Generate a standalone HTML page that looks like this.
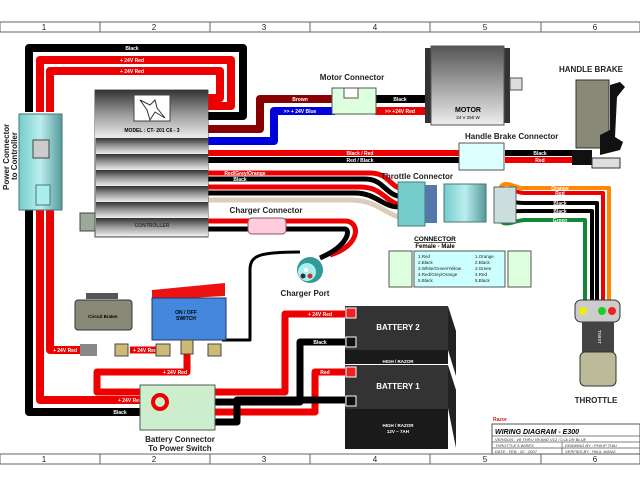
<!DOCTYPE html>
<html><head><meta charset="utf-8"><style>
html,body{margin:0;padding:0;background:#fff;width:640px;height:480px;overflow:hidden}
svg{display:block;font-family:"Liberation Sans",sans-serif}
.wl{font-size:5px;fill:#fff;font-weight:bold}
.lb{font-size:8px;font-weight:bold;fill:#222}
</style></head><body>
<svg width="640" height="480" viewBox="0 0 640 480" xmlns="http://www.w3.org/2000/svg">
<defs>
<linearGradient id="cg" x1="0" y1="0" x2="0" y2="1"><stop offset="0" stop-color="#333"/><stop offset="0.5" stop-color="#999"/><stop offset="1" stop-color="#eee"/></linearGradient>
<linearGradient id="mg" x1="0" y1="0" x2="0" y2="1"><stop offset="0" stop-color="#555"/><stop offset="1" stop-color="#eee"/></linearGradient>
<linearGradient id="tg" x1="0" y1="0" x2="1" y2="0"><stop offset="0" stop-color="#7cc"/><stop offset="0.5" stop-color="#bee"/><stop offset="1" stop-color="#599"/></linearGradient>
</defs>
<!-- rulers -->
<g stroke="#666" stroke-width="1" fill="#fff">
<rect x="0" y="22" width="640" height="10"/><rect x="0" y="454" width="640" height="10"/>
<path d="M100 22v10M210 22v10M310 22v10M430 22v10M541 22v10M100 454v10M210 454v10M310 454v10M430 454v10M541 454v10"/>
</g>
<g font-size="8" text-anchor="middle" fill="#222">
<text x="44" y="30">1</text><text x="154" y="30">2</text><text x="264" y="30">3</text><text x="375" y="30">4</text><text x="485" y="30">5</text><text x="595" y="30">6</text>
<text x="44" y="462">1</text><text x="154" y="462">2</text><text x="264" y="462">3</text><text x="375" y="462">4</text><text x="485" y="462">5</text><text x="595" y="462">6</text>
</g>
<!-- top loops -->
<g fill="none" stroke-linejoin="round">
<path d="M29 112V48H243V116H205" stroke="#000" stroke-width="8"/>
<path d="M40 112V60H231V106H205" stroke="#e00" stroke-width="8"/>
<path d="M50 112V71H220V98H205" stroke="#e00" stroke-width="8"/>
<!-- left down -->
<path d="M29 205V412H145" stroke="#000" stroke-width="8"/>
<path d="M40 205V400H145" stroke="#e00" stroke-width="8"/>
<path d="M50 205V350H80" stroke="#e00" stroke-width="8"/>
<!-- brown / blue -->
<path d="M205 129H260V99H335" stroke="#800" stroke-width="8"/>
<path d="M205 141H274V111H335" stroke="#00d" stroke-width="8"/>
<path d="M375 99H428" stroke="#000" stroke-width="8"/>
<path d="M375 111H428" stroke="#e00" stroke-width="8"/>
<!-- brake -->
<path d="M205 153H460" stroke="#e00" stroke-width="6"/>
<path d="M205 160H460" stroke="#000" stroke-width="6"/>
<path d="M505 153H580" stroke="#000" stroke-width="6"/>
<path d="M505 160H580" stroke="#e00" stroke-width="6"/>
<!-- throttle to female -->
<path d="M205 173H370C390 173 390 189 405 189" stroke="#e00" stroke-width="5"/>
<path d="M205 179H365C385 179 385 197 405 197" stroke="#000" stroke-width="5"/>
<path d="M205 187H360C385 187 385 205 405 205" stroke="#e00" stroke-width="5"/>
<path d="M205 193H355C380 193 385 213 408 205" stroke="#000" stroke-width="5"/>
<path d="M205 200H350C385 200 390 225 415 215" stroke="#dcb" stroke-width="5"/>
<!-- throttle male to throttle -->
<path d="M500 192C500 180 510 184 520 188H609V300" stroke="#f80" stroke-width="4"/>
<path d="M508 192C510 186 515 193 525 193H603V300" stroke="#e00" stroke-width="4"/>
<path d="M500 205C505 200 515 203 525 203H597V300" stroke="#000" stroke-width="4"/>
<path d="M500 210C505 212 515 211 525 211H592V300" stroke="#000" stroke-width="4"/>
<path d="M500 220C505 228 515 220 525 220H585V300" stroke="#183" stroke-width="4"/>
<!-- charger -->
<path d="M205 221H250M285 221H345C360 221 362 245 330 255" stroke="#e00" stroke-width="5"/>
<path d="M205 229H250M285 229H345C350 229 350 245 320 258" stroke="#000" stroke-width="5"/>
<path d="M300 252C260 252 250 255 250 270V340H222" stroke="#000" stroke-width="3"/>
<!-- switch/breaker wires -->
<path d="M130 350H160" stroke="#e00" stroke-width="7"/>
<path d="M187 340V372H97V392H145" stroke="#e00" stroke-width="7"/>
<!-- batteries wires -->
<path d="M210 392H285V314H345" stroke="#e00" stroke-width="7"/>
<path d="M210 402H300V342H345" stroke="#000" stroke-width="7"/>
<path d="M210 412H315V372H345" stroke="#e00" stroke-width="7"/>
<path d="M210 422H237V400H345" stroke="#000" stroke-width="7"/>
</g>
<!-- wire labels -->
<g class="wl" text-anchor="middle">
<text x="132" y="50">Black</text><text x="132" y="62">+ 24V Red</text><text x="132" y="73">+ 24V Red</text>
<text x="300" y="101">Brown</text><text x="300" y="113">&gt;&gt; + 24V Blue</text>
<text x="400" y="101">Black</text><text x="400" y="113">&gt;&gt; +24V Red</text>
<text x="360" y="155">Black / Red</text><text x="360" y="162">Red / Black</text>
<text x="540" y="155">Black</text><text x="540" y="162">Red</text>
<text x="245" y="175">Red/Grey/Orange</text><text x="240" y="181">Black</text>
<text x="120" y="414">Black</text><text x="130" y="402">+ 24V Red</text><text x="65" y="352">+ 24V Red</text>
<text x="145" y="352">+ 24V Red</text><text x="175" y="374">+ 24V Red</text>
<text x="250" y="384">+ 24V Red</text><text x="320" y="316">+ 24V Red</text><text x="320" y="344">Black</text>
<text x="325" y="374">Red</text><text x="250" y="424">Black</text>
<text x="560" y="190">Orange</text><text x="560" y="195">Red</text><text x="560" y="205">Black</text><text x="560" y="213">Black</text><text x="560" y="222">Green</text>
</g>
<!-- power connector -->
<rect x="19" y="114" width="43" height="96" fill="url(#tg)" stroke="#477"/>
<rect x="33" y="140" width="16" height="18" fill="#ccc" stroke="#444"/>
<rect x="36" y="185" width="14" height="20" fill="#aee" stroke="#477"/>
<text class="lb" font-size="7" transform="translate(9,190) rotate(-90)">Power Connector</text>
<text class="lb" font-size="7" transform="translate(17,180) rotate(-90)">to Controller</text>
<!-- controller -->
<rect x="80" y="213" width="15" height="18" fill="#9a9" stroke="#444"/>
<rect x="95" y="90" width="113" height="147" fill="#ccc" stroke="#555"/>
<rect x="95" y="90" width="113" height="48" fill="url(#cg)"/>
<g fill="url(#cg)"><rect x="96" y="138" width="112" height="16"/><rect x="96" y="154" width="112" height="16"/><rect x="96" y="170" width="112" height="16"/><rect x="96" y="186" width="112" height="16"/><rect x="96" y="202" width="112" height="16"/><rect x="96" y="218" width="112" height="18"/></g>
<rect x="134" y="95" width="36" height="26" fill="#fff" stroke="#444"/>
<path d="M140 100l10 5l5-5l2 8l8 10l-10-6l-5 8l-3-10z" fill="none" stroke="#333" stroke-width="1"/>
<text x="152" y="132" font-size="5" font-weight="bold" text-anchor="middle">MODEL : CT- 201 C6 - 3</text>
<text x="152" y="227" font-size="5" font-weight="bold" text-anchor="middle" fill="#333">CONTROLLER</text>
<!-- motor connector -->
<text class="lb" x="352" y="80" text-anchor="middle" font-size="7">Motor Connector</text>
<rect x="332" y="88" width="44" height="26" fill="#dfd" stroke="#555"/>
<rect x="344" y="88" width="14" height="10" fill="#fff" stroke="#555"/>
<!-- motor -->
<rect x="425" y="48" width="6" height="75" fill="#333"/><rect x="504" y="48" width="6" height="75" fill="#333"/>
<rect x="431" y="46" width="73" height="79" fill="url(#mg)" stroke="#555"/>
<rect x="510" y="78" width="12" height="12" fill="#ddd" stroke="#555"/>
<text x="468" y="112" font-size="7" font-weight="bold" text-anchor="middle">MOTOR</text>
<text x="468" y="119" font-size="4.5" text-anchor="middle">24 V 250 W</text>
<!-- handle brake -->
<text class="lb" x="591" y="72" text-anchor="middle">HANDLE BRAKE</text>
<rect x="576" y="80" width="33" height="68" fill="#887" stroke="#333"/>
<path d="M610 85l10-3l5 5l-8 10l-2 40l8 5l-3 8l-20 5v-20l10-5z" fill="#111"/>
<rect x="572" y="150" width="20" height="15" fill="#111"/>
<rect x="592" y="158" width="28" height="10" fill="#ddd" stroke="#333"/>
<text class="lb" x="465" y="139" font-size="7">Handle Brake Connector</text>
<rect x="459" y="143" width="45" height="27" fill="#dff" stroke="#555"/>
<!-- throttle connector -->
<text class="lb" x="381" y="179" font-size="7.5">Throttle Connector</text>
<rect x="398" y="182" width="27" height="44" fill="#7cc" stroke="#477"/>
<rect x="425" y="185" width="12" height="38" fill="#57a"/>
<rect x="444" y="184" width="42" height="38" fill="url(#tg)" stroke="#477"/>
<rect x="494" y="187" width="22" height="36" fill="#cdd" stroke="#566"/>
<text x="435" y="241" font-size="6.5" font-weight="bold" text-decoration="underline" text-anchor="middle">CONNECTOR</text>
<text x="435" y="248" font-size="6" font-weight="bold" text-anchor="middle">Female  -  Male</text>
<rect x="389" y="251" width="23" height="36" fill="#dfd" stroke="#555"/>
<rect x="414" y="251" width="91" height="36" fill="#cff" stroke="#555"/>
<rect x="508" y="251" width="23" height="36" fill="#dfd" stroke="#555"/>
<g font-size="4.5" fill="#222"><text x="418" y="258">1.Red</text><text x="418" y="264">2.Black</text><text x="418" y="270">3.White/Green/Yellow</text><text x="418" y="276">4.Red/Grey/Orange</text><text x="418" y="282">5.Black</text>
<text x="475" y="258">1.Orange</text><text x="475" y="264">2.Black</text><text x="475" y="270">3.Green</text><text x="475" y="276">4.Red</text><text x="475" y="282">5.Black</text></g>
<!-- throttle -->
<rect x="575" y="300" width="45" height="22" rx="6" fill="#ccc" stroke="#333"/>
<circle cx="583" cy="311" r="4" fill="#ee0"/><circle cx="602" cy="311" r="4" fill="#2c2"/><circle cx="612" cy="311" r="4" fill="#e22"/>
<rect x="582" y="322" width="32" height="30" fill="#444"/>
<text x="598" y="330" font-size="4.5" fill="#fff" transform="rotate(90 598 330)">TWIST</text>
<rect x="580" y="352" width="36" height="34" rx="5" fill="#bb9" stroke="#333"/>
<text class="lb" x="596" y="403" text-anchor="middle">THROTTLE</text>
<!-- charger -->
<text class="lb" x="266" y="213" text-anchor="middle" font-size="7">Charger Connector</text>
<rect x="248" y="218" width="38" height="16" rx="4" fill="#fcd" stroke="#855"/>
<circle cx="310" cy="270" r="13" fill="#399"/><circle cx="307" cy="272" r="9" fill="#aee"/>
<circle cx="303" cy="276" r="2.5" fill="#333"/><circle cx="310" cy="276" r="2.5" fill="#c33"/><circle cx="306" cy="270" r="2" fill="#fff"/>
<text class="lb" x="305" y="296" text-anchor="middle" font-size="7">Charger Port</text>
<!-- circuit breaker -->
<rect x="86" y="293" width="32" height="6" fill="#555"/>
<rect x="75" y="300" width="57" height="30" rx="3" fill="#887" stroke="#333"/>
<text x="103" y="318" font-size="4.5" font-weight="bold" text-anchor="middle">Circuit Braker</text>
<rect x="80" y="344" width="17" height="12" fill="#888"/><rect x="115" y="344" width="13" height="12" fill="#cb7" stroke="#444"/>
<!-- switch -->
<path d="M152 290L225 283V296L152 300z" fill="#e11"/>
<rect x="152" y="298" width="74" height="42" fill="#48d" stroke="#236"/>
<text x="186" y="314" font-size="5" font-weight="bold" text-anchor="middle">ON / OFF</text><text x="186" y="320" font-size="5" font-weight="bold" text-anchor="middle">SWITCH</text>
<rect x="156" y="344" width="14" height="12" fill="#cb7" stroke="#444"/><rect x="181" y="340" width="12" height="14" fill="#cb7" stroke="#444"/><rect x="208" y="344" width="13" height="12" fill="#cb7" stroke="#444"/>
<!-- battery connector -->
<rect x="140" y="385" width="75" height="45" fill="#cec" stroke="#555"/>
<circle cx="160" cy="402" r="7" fill="none" stroke="#e00" stroke-width="4"/>
<text class="lb" x="180" y="442" text-anchor="middle" font-size="7">Battery Connector</text>
<text class="lb" x="180" y="451" text-anchor="middle" font-size="7">To Power Switch</text>
<!-- batteries -->
<rect x="345" y="306" width="103" height="44" fill="#333"/><path d="M448 306l8 25v45l-8-26z" fill="#222"/>
<rect x="345" y="350" width="103" height="14" fill="#1a1a1a"/>
<rect x="345" y="365" width="103" height="44" fill="#333"/><path d="M448 365l8 25v58l-8-40z" fill="#222"/>
<rect x="345" y="409" width="103" height="40" fill="#1a1a1a"/>
<g fill="#fff" font-weight="bold" text-anchor="middle"><text x="398" y="330" font-size="8">BATTERY 2</text><text x="398" y="389" font-size="8">BATTERY 1</text>
<text x="398" y="363" font-size="4.5">HIGH / RAZOR</text><text x="398" y="427" font-size="4.5">HIGH / RAZOR</text><text x="398" y="433" font-size="4.5">12V ~ 7AH</text></g>
<g fill="#e22" stroke="#fff" stroke-width="1"><rect x="346" y="308" width="10" height="10"/><rect x="346" y="367" width="10" height="10"/></g>
<g fill="#111" stroke="#fff" stroke-width="1"><rect x="346" y="337" width="10" height="10"/><rect x="346" y="396" width="10" height="10"/></g>
<!-- title -->
<text x="493" y="421" font-size="5" font-weight="bold" fill="#c22">Razor</text>
<rect x="492" y="424" width="148" height="30" fill="#fff" stroke="#555"/>
<path d="M492 436H640M492 442H640M492 448H640M562 442V454" stroke="#555" stroke-width="0.7"/>
<text x="495" y="434" font-size="7" font-weight="bold" font-style="italic">WIRING DIAGRAM - E300</text>
<g font-size="4" font-style="italic" fill="#333"><text x="495" y="441">VERSION : V8 THRU V8 AND V12 / COLOR BLUE</text><text x="495" y="447">THROTTLE 5 WIRES</text><text x="495" y="453">DATE : FEB - 02 - 2007</text><text x="565" y="447">DRAWING BY : PHILIP THAI</text><text x="565" y="453">VERFIED BY : PAUL WANG</text></g>
</svg>
</body></html>
